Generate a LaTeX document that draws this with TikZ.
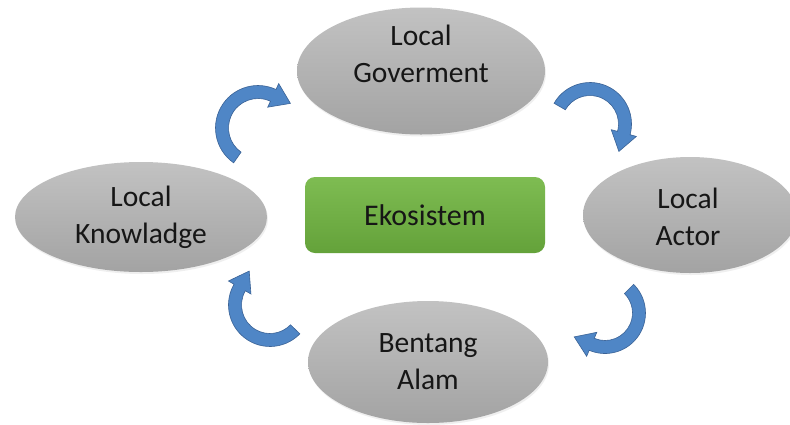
\documentclass[tikz,border=0pt]{standalone}
\usepackage{fontspec}
\setmainfont{Carlito}
\usetikzlibrary{calc,shapes.geometric,shadows}
\definecolor{ellTop}{RGB}{194,194,194}
\definecolor{ellBot}{RGB}{163,163,163}
\definecolor{grTop}{RGB}{126,188,82}
\definecolor{grBot}{RGB}{100,162,58}
\definecolor{arrFill}{RGB}{79,134,198}
\definecolor{arrEdge}{RGB}{58,98,150}
\definecolor{txt}{RGB}{22,22,22}
\newcommand{\cwarrow}[7]{%
  \filldraw[blockarrow]
   ($(#1)+(#3:#2+#5)$) arc[start angle=#3, end angle=#4, radius={#2pt+#5pt}]
   -- ($(#1)+(#4:#2+#6)$)
   -- ($(#1)+(#4:#2)+(#4-90:#7)$)
   -- ($(#1)+(#4:#2-#6)$)
   -- ($(#1)+(#4:#2-#5)$) arc[start angle=#4, end angle=#3, radius={#2pt-#5pt}]
   -- cycle;}
\begin{document}
\begin{tikzpicture}[x=1pt,y=1pt,
  ell/.style={ellipse, top color=ellTop, bottom color=ellBot, draw=none, inner sep=0pt,
    drop shadow={shadow xshift=1pt, shadow yshift=-2pt, opacity=0.12}},
  lbl/.style={font=\fontsize{29.5}{37}\selectfont, align=center, text=txt, inner sep=0pt},
  greenbox/.style={rectangle, rounded corners=10pt, top color=grTop, bottom color=grBot,
    draw=none, font=\fontsize{30}{36}\selectfont, text=txt, inner sep=0pt},
  blockarrow/.style={fill=arrFill, draw=arrEdge, line width=0.6pt, line join=miter}]
\useasboundingbox (0,0) rectangle (790,-424);
\fill[white] (0,0) rectangle (790,-424);
% ellipses
\node[ell, minimum width=248pt, minimum height=127pt] (gov) at (421,-71) {};
\node[lbl] (govtext) at (421,-54) {Local\\Goverment};
\node[ell, lbl, minimum width=252pt, minimum height=110pt] (know) at (141,-217) {Local\\Knowladge};
\node[ell, minimum width=214pt, minimum height=116pt] (actor) at (690,-215) {};
\node[lbl] (actortext) at (688,-217) {Local\\Actor};
\node[ell, lbl, minimum width=240pt, minimum height=122pt] (alam) at (428,-362) {Bentang\\Alam};
% centre box
\node[greenbox, minimum width=240pt, minimum height=76pt] (eko) at (425,-215) {Ekosistem};
% curved arrows
\coordinate (c1) at (258,-128);
\coordinate (c2) at (590,-124);
\coordinate (c3) at (605,-313);
\coordinate (c4) at (270,-305);
\cwarrow{c1}{36}{235}{65}{6.5}{13}{19}
\cwarrow{c2}{35}{150}{-15}{6.5}{13}{19}
\cwarrow{c3}{34}{45}{-113}{6.5}{13}{19}
\cwarrow{c4}{35}{316}{150}{6.5}{13}{19}
\end{tikzpicture}
\end{document}
